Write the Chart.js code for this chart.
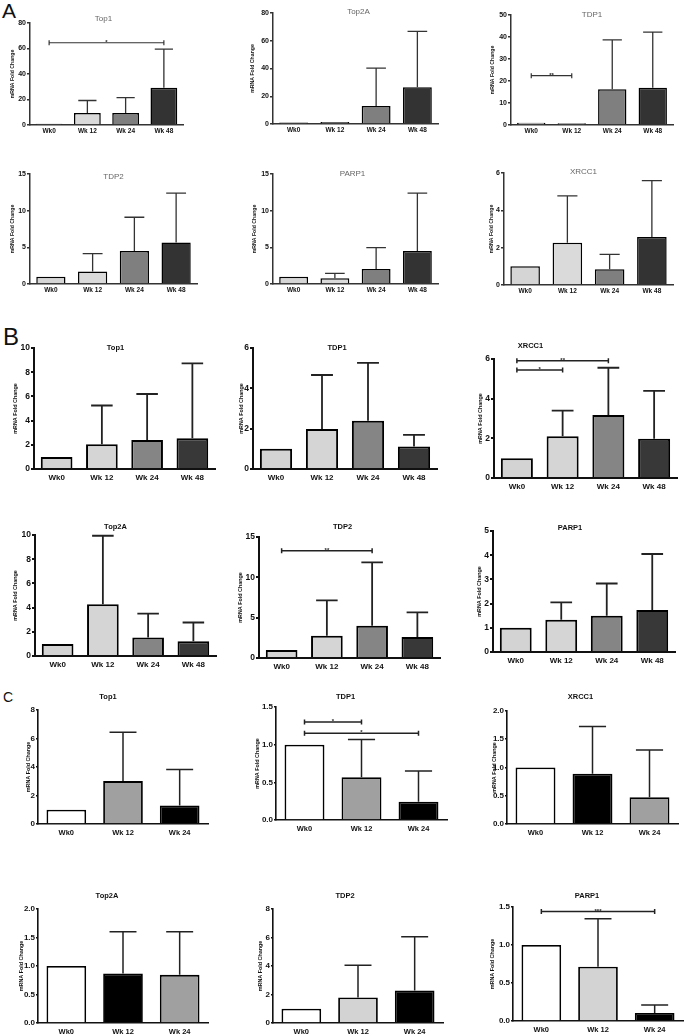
<!DOCTYPE html>
<html>
<head>
<meta charset="utf-8">
<script src="https://cdn.jsdelivr.net/npm/chart.js@4.4.1/dist/chart.umd.min.js"></script>
<style>
  body { margin: 0; background: #fff; width: 685px; height: 1036px; overflow: hidden; position: relative; font-family: "Liberation Sans", Arial, sans-serif; }
  canvas { position: absolute; }
  .lbl { position: absolute; line-height: 1; color: #111; }
</style>
</head>
<body>
<div class="lbl" style="left:2px;top:0px;font-size:21px">A</div>
<div class="lbl" style="left:3px;top:325px;font-size:24px">B</div>
<div class="lbl" style="left:3px;top:690px;font-size:14px">C</div>
<script>
// categories
var weeks4 = ["Wk0", "Wk 12", "Wk 24", "Wk 48"];
var weeks3 = ["Wk0", "Wk 12", "Wk 24"];

// A - bar means and top of error bar
var aTop1 = [1, 9.4, 9.4, 29.3];
var aTop1Err = [1, 19.2, 21.5, 59.5];
var aTop2A = [1, 1.4, 13, 26.5];
var aTop2AErr = [1, 2, 40.2, 66.7];
var aTDP1 = [1, 0.8, 16.2, 16.9];
var aTDP1Err = [1, 1.2, 38.7, 42.2];
var aTDP2 = [1, 1.7, 4.5, 5.65];
var aTDP2Err = [1, 4.15, 9.1, 12.4];
var aPARP1 = [1, 0.8, 2.05, 4.5];
var aPARP1Err = [1, 1.45, 4.95, 12.4];
var aXRCC1 = [1, 2.27, 0.84, 2.57];
var aXRCC1Err = [1, 4.77, 1.64, 5.59];

// B
var bTop1 = [1, 2.05, 2.4, 2.55];
var bTop1Err = [1, 5.25, 6.2, 8.73];
var bTDP1 = [1, 1.98, 2.39, 1.12];
var bTDP1Err = [1, 4.66, 5.26, 1.69];
var bXRCC1 = [1, 2.11, 3.18, 1.98];
var bXRCC1Err = [1, 3.4, 5.56, 4.39];
var bTop2A = [1, 4.28, 1.52, 1.22];
var bTop2AErr = [1, 9.94, 3.51, 2.77];
var bTDP2 = [1, 2.75, 4.0, 2.6];
var bTDP2Err = [1, 7.15, 11.86, 5.66];
var bPARP1 = [1, 1.33, 1.5, 1.74];
var bPARP1Err = [1, 2.05, 2.83, 4.05];

// C
var cTop1 = [1, 3.01, 1.3];
var cTop1Err = [1, 6.44, 3.82];
var cTDP1 = [1, 0.567, 0.243];
var cTDP1Err = [1, 1.07, 0.65];
var cXRCC1 = [1, 0.89, 0.475];
var cXRCC1Err = [1, 1.725, 1.31];
var cTop2A = [1, 0.87, 0.845];
var cTop2AErr = [1, 1.6, 1.6];
var cTDP2 = [1, 1.79, 2.28];
var cTDP2Err = [1, 4.06, 6.06];
var cPARP1 = [1, 0.714, 0.106];
var cPARP1Err = [1, 1.345, 0.21];

// significance brackets: [from, to, value, label]
var aTop1Sig = [[0, 3, 64.5, "*"]];
var aTDP1Sig = [[0, 1, 22.4, "**"]];
var bXRCC1Sig = [[0, 1, 5.45, "*"], [0, 2, 5.91, "**"]];
var bTDP2Sig = [[0, 2, 13.3, "**"]];
var cTDP1Sig = [[0, 1, 1.30, "*"], [0, 2, 1.15, "*"]];
var cPARP1Sig = [[0, 2, 1.44, "***"]];

var FF = '"Liberation Sans", Arial, sans-serif';
Chart.defaults.font.family = FF;

var YW = 30, PT = 22, PR = 6, XH = 20;

var styles = {
  A: { sec: "A", tick: 7, tickLen: 3, xtick: 6.5, xpad: 2, bw: 1.5, axis: "#333", axisW: 1.5, err: "#333", errW: 1.3,
       title: "normal 8px " + FF, titleColor: "#666", ytitle: "bold 5.2px " + FF },
  B: { sec: "B", tick: 8.5, tickLen: 3, xtick: 8, xpad: 4, bw: 2, axis: "#111", axisW: 2, err: "#222", errW: 1.8,
       title: "bold 7.5px " + FF, titleColor: "#111", ytitle: "bold 5.4px " + FF },
  C: { sec: "C", tick: 8, tickLen: 2, xtick: 7.5, xpad: 4, bw: 1.8, axis: "#111", axisW: 1.6, err: "#222", errW: 1.5,
       title: "bold 7.5px " + FF, titleColor: "#111", ytitle: "bold 5.4px " + FF }
};

var greysA = ["#d5d5d5", "#dadada", "#7f7f7f", "#333333"];
var greysB = ["#d3d3d3", "#d5d5d5", "#858585", "#383838"];

var panels = [
  { sec: "A", title: "Top1", labels: weeks4, values: aTop1, errs: aTop1Err, max: 80, step: 20, colors: greysA, sig: aTop1Sig, box: [30, 23, 183, 125], tdx: -3, tdy: -4, ydx: 17 },
  { sec: "A", title: "Top2A", labels: weeks4, values: aTop2A, errs: aTop2AErr, max: 80, step: 20, colors: greysA, sig: [], box: [273, 13, 438, 124], tdx: 3, tdy: -1, ydx: 20 },
  { sec: "A", title: "TDP1", labels: weeks4, values: aTDP1, errs: aTDP1Err, max: 50, step: 10, colors: greysA, sig: aTDP1Sig, box: [511, 15, 673, 125], tdx: 0, tdy: 0, ydx: 18 },
  { sec: "A", title: "TDP2", labels: weeks4, values: aTDP2, errs: aTDP2Err, max: 15, step: 5, colors: greysA, sig: [], box: [30, 174, 197, 284], tdx: 0, tdy: 3, ydx: 17 },
  { sec: "A", title: "PARP1", labels: weeks4, values: aPARP1, errs: aPARP1Err, max: 15, step: 5, colors: greysA, sig: [], box: [273, 174, 438, 284], tdx: -3, tdy: 0, ydx: 18 },
  { sec: "A", title: "XRCC1", labels: weeks4, values: aXRCC1, errs: aXRCC1Err, max: 6, step: 2, colors: greysA, sig: [], box: [504, 173, 673, 285], tdx: -5, tdy: -1, ydx: 12 },

  { sec: "B", title: "Top1", labels: weeks4, values: bTop1, errs: bTop1Err, max: 10, step: 2, colors: greysB, sig: [], box: [34, 348, 215, 469], tdx: -9, tdy: 0, ydx: 18 },
  { sec: "B", title: "TDP1", labels: weeks4, values: bTDP1, errs: bTDP1Err, max: 6, step: 2, colors: greysB, sig: [], box: [253, 348, 437, 469], tdx: -8, tdy: 0, ydx: 11 },
  { sec: "B", title: "XRCC1", labels: weeks4, values: bXRCC1, errs: bXRCC1Err, max: 6, step: 2, colors: greysB, sig: bXRCC1Sig, box: [494, 359, 677, 478], tdx: -55, tdy: -13, ydx: 13 },
  { sec: "B", title: "Top2A", labels: weeks4, values: bTop2A, errs: bTop2AErr, max: 10, step: 2, colors: greysB, sig: [], box: [35, 535, 216, 656], tdx: -10, tdy: -8, ydx: 19 },
  { sec: "B", title: "TDP2", labels: weeks4, values: bTDP2, errs: bTDP2Err, max: 15, step: 5, colors: greysB, sig: bTDP2Sig, box: [259, 537, 440, 658], tdx: -7, tdy: -10, ydx: 18 },
  { sec: "B", title: "PARP1", labels: weeks4, values: bPARP1, errs: bPARP1Err, max: 5, step: 1, colors: greysB, sig: [], box: [493, 531, 675, 652], tdx: -14, tdy: -3, ydx: 13 },

  { sec: "C", title: "Top1", labels: weeks3, values: cTop1, errs: cTop1Err, max: 8, step: 2, colors: ["#ffffff", "#a0a0a0", "#000000"], sig: [], box: [38, 710, 208, 824], tdx: -15, tdy: -13, ydx: 9 },
  { sec: "C", title: "TDP1", labels: weeks3, values: cTDP1, errs: cTDP1Err, max: 1.5, step: 0.5, colors: ["#ffffff", "#a0a0a0", "#000000"], sig: cTDP1Sig, box: [276, 707, 447, 820], tdx: -16, tdy: -10, ydx: 18 },
  { sec: "C", title: "XRCC1", labels: weeks3, values: cXRCC1, errs: cXRCC1Err, max: 2, step: 0.5, colors: ["#ffffff", "#000000", "#a0a0a0"], sig: [], box: [507, 711, 678, 824], tdx: -12, tdy: -14, ydx: 12 },
  { sec: "C", title: "Top2A", labels: weeks3, values: cTop2A, errs: cTop2AErr, max: 2, step: 0.5, colors: ["#ffffff", "#000000", "#a0a0a0"], sig: [], box: [38, 909, 208, 1023], tdx: -16, tdy: -13, ydx: 16 },
  { sec: "C", title: "TDP2", labels: weeks3, values: cTDP2, errs: cTDP2Err, max: 8, step: 2, colors: ["#ffffff", "#d3d3d3", "#000000"], sig: [], box: [273, 909, 443, 1023], tdx: -13, tdy: -13, ydx: 12 },
  { sec: "C", title: "PARP1", labels: weeks3, values: cPARP1, errs: cPARP1Err, max: 1.5, step: 0.5, colors: ["#ffffff", "#d3d3d3", "#000000"], sig: cPARP1Sig, box: [513, 907, 683, 1021], tdx: -11, tdy: -11, ydx: 20 }
];

// error bars, brackets, titles drawn on top using the chart's own scales
function decor(p, st) {
  return {
    id: "decor",
    afterDatasetsDraw: function (chart) {
      var ctx = chart.ctx, y = chart.scales.y, bars = chart.getDatasetMeta(0).data;
      ctx.save();
      ctx.strokeStyle = st.err;
      ctx.lineWidth = st.errW;
      bars.forEach(function (b, i) {
        var top = y.getPixelForValue(p.errs[i]);
        if (top >= b.y - 1) return;
        var cap = b.width * 0.34;
        ctx.beginPath();
        ctx.moveTo(b.x, b.y);
        ctx.lineTo(b.x, top);
        ctx.moveTo(b.x - cap, top);
        ctx.lineTo(b.x + cap, top);
        ctx.stroke();
      });
      ctx.restore();
    },
    afterDraw: function (chart) {
      var ctx = chart.ctx, a = chart.chartArea, y = chart.scales.y, bars = chart.getDatasetMeta(0).data;
      ctx.save();
      // brackets
      ctx.strokeStyle = st.err;
      ctx.lineWidth = st.sec === "A" ? 1.2 : 1.5;
      ctx.fillStyle = "#222";
      ctx.font = "bold 6px " + FF;
      ctx.textAlign = "center";
      ctx.textBaseline = "alphabetic";
      p.sig.forEach(function (s) {
        var x0 = bars[s[0]].x, x1 = bars[s[1]].x, yy = y.getPixelForValue(s[2]);
        ctx.beginPath();
        ctx.moveTo(x0, yy); ctx.lineTo(x1, yy);
        ctx.moveTo(x0, yy - 2.5); ctx.lineTo(x0, yy + 2.5);
        ctx.moveTo(x1, yy - 2.5); ctx.lineTo(x1, yy + 2.5);
        ctx.stroke();
        ctx.fillText(s[3], (x0 + x1) / 2, yy + 1);
      });
      // panel title
      ctx.font = st.title;
      ctx.fillStyle = st.titleColor;
      ctx.textBaseline = "middle";
      ctx.fillText(p.title, (a.left + a.right) / 2 + p.tdx, a.top + p.tdy);
      // y axis title
      ctx.font = st.ytitle;
      ctx.fillStyle = "#111";
      ctx.translate(a.left - p.ydx, (a.top + a.bottom) / 2);
      ctx.rotate(-Math.PI / 2);
      ctx.fillText("mRNA Fold Change", 0, 0);
      ctx.restore();
    }
  };
}

function buildPanel(p) {
  var st = styles[p.sec];
  var w = p.box[2] - p.box[0] + YW + PR;
  var h = p.box[3] - p.box[1] + PT + XH;
  var cv = document.createElement("canvas");
  cv.width = w;
  cv.height = h;
  cv.style.width = w + "px";
  cv.style.height = h + "px";
  cv.style.left = (p.box[0] - YW) + "px";
  cv.style.top = (p.box[1] - PT) + "px";
  document.body.appendChild(cv);

  new Chart(cv.getContext("2d"), {
    type: "bar",
    data: {
      labels: p.labels,
      datasets: [{
        data: p.values,
        backgroundColor: p.colors,
        borderColor: "#000",
        borderWidth: st.bw,
        barPercentage: 0.7,
        categoryPercentage: 1
      }]
    },
    options: {
      responsive: false,
      animation: false,
      devicePixelRatio: 1,
      layout: { padding: { left: 0, top: PT, right: PR, bottom: 0 } },
      plugins: { legend: { display: false }, tooltip: { enabled: false } },
      scales: {
        x: {
          offset: true,
          grid: { display: false, drawTicks: false },
          border: { color: st.axis, width: st.axisW },
          ticks: { color: "#111", padding: st.xpad, maxRotation: 0, autoSkip: false, font: { size: st.xtick, weight: "bold" } },
          afterFit: function (s) { s.height = XH; }
        },
        y: {
          min: 0,
          max: p.max,
          grid: { drawOnChartArea: false, tickLength: st.tickLen, color: st.axis, lineWidth: st.axisW },
          border: { color: st.axis, width: st.axisW },
          ticks: {
            stepSize: p.step,
            color: "#111",
            padding: 1,
            font: { size: st.tick, weight: "bold" },
            callback: function (v) { return p.step < 1 ? v.toFixed(1) : v; }
          },
          afterFit: function (s) { s.width = YW; }
        }
      }
    },
    plugins: [decor(p, st)]
  });
}

panels.forEach(buildPanel);
</script>
</body>
</html>
